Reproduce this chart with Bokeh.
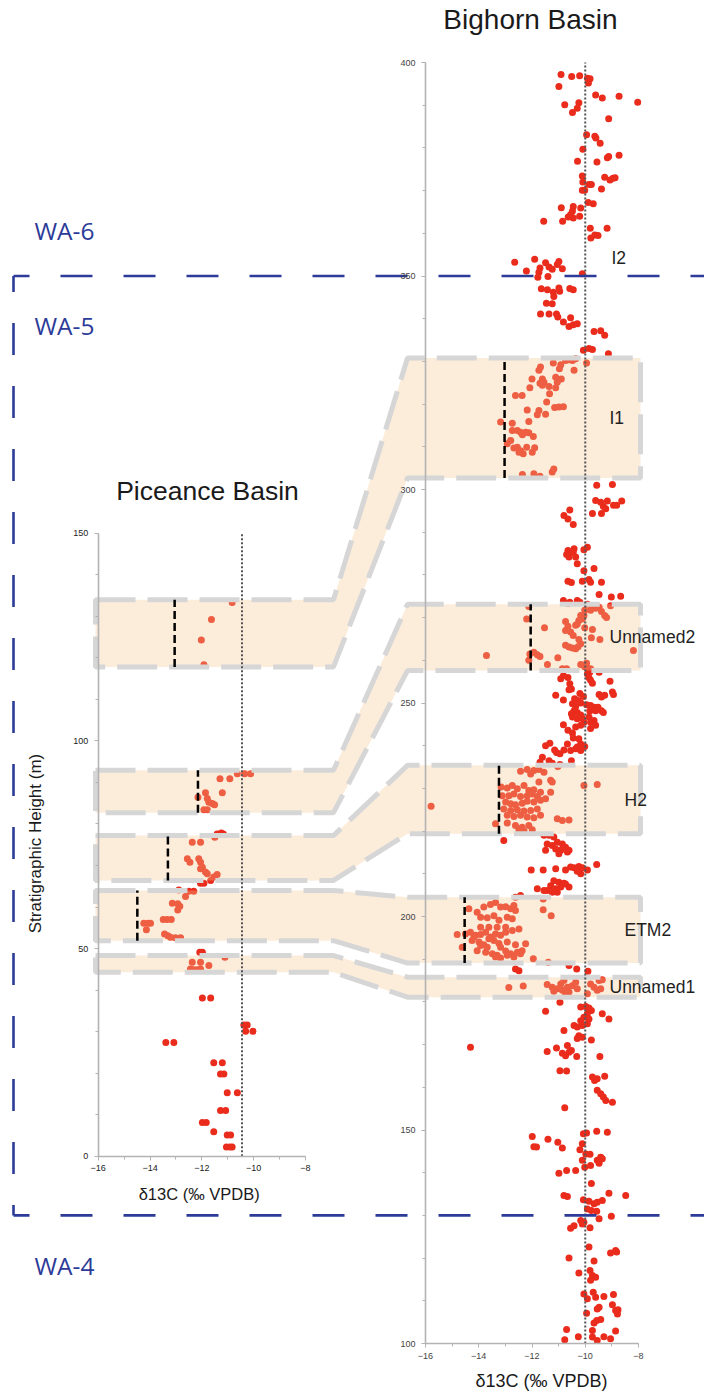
import numpy as np
from bokeh.plotting import figure
from bokeh.models import Range1d, LinearAxis, SingleIntervalTicker
from bokeh.core.properties import value
from bokeh.embed import file_html
from bokeh.resources import INLINE

W, H = 704, 1393

# ---------------- data ----------------
# Bighorn Basin: bulk d13C (per mil VPDB) against stratigraphic height (m)
bighorn_d13c = [
    -10.91, -10.51, -10.21, -9.92, -9.82, -9.88, -10.99,
    -9.61, -9.36, -8.73, -8.03, -10.77, -10.24, -10.30, -10.48, -9.12,
    -9.95, -9.64, -9.60, -9.44, -10.09, -10.29, -9.56,
    -9.17, -9.12, -8.73, -10.11, -10.09, -9.86, -9.77, -10.11, -10.02, -9.39,
    -9.27, -9.07, -8.96, -8.88,
    -9.89, -9.70, -10.90, -10.45, -10.17,
    -10.48, -10.55, -10.64, -10.45, -10.21,
    -11.56, -10.85, -9.81, -9.18, -9.79, -9.64, -9.52,
    -12.65, -11.90, -12.21,
    -11.49, -11.36, -11.24, -10.99, -10.86,
    -11.70, -11.74, -11.78, -11.40, -11.05, -10.11,
    -11.65, -11.42, -11.20, -10.99, -10.96, -10.58, -10.45,
    -11.18, -11.46, -11.24,
    -11.68, -11.36, -11.08, -11.03, -10.82,
    -10.55, -10.61, -10.45, -10.30,
    -9.67, -9.42, -9.27,
    -10.07, -9.86, -9.73, -9.13,
    -10.74, -10.61, -10.48, -10.36, -9.95,
    -11.20, -10.92, -10.97, -11.68, -11.74, -10.42,
    -11.11, -10.90, -11.05, -11.11,
    -12.00, -11.61, -11.55, -11.70, -11.61, -11.36,
    -12.08, -12.62, -12.37, -11.34, -11.45,
    -11.15, -10.99, -10.82, -12.18,
    -11.74, -11.80, -11.49,
    -13.18, -12.74, -12.12,
    -12.74, -12.55, -12.43, -12.24, -12.12, -12.36, -11.95,
    -12.80, -12.93,
    -12.68, -12.55, -12.43, -12.33, -12.20, -11.99, -11.90, -12.49,
    -12.36, -11.93, -11.70, -11.24, -11.18,
    -9.57, -8.98,
    -9.61, -9.42, -9.17, -9.32, -9.23, -8.94, -8.82, -8.63,
    -9.73, -9.39,
    -10.58, -10.80, -10.65, -10.45,
    -10.42, -9.92,
    -10.65, -10.45, -10.61, -10.36, -10.30, -10.05, -10.70,
    -9.67, -10.05,
    -10.65, -10.52, -10.11, -9.86, -9.80, -9.39,
    -9.48, -9.02, -8.67,
    -10.82, -10.65, -10.58, -10.30, -10.20, -9.05,
    -9.92, -9.73, -9.61, -9.48, -9.39, -9.27, -9.20, -9.80, -10.02,
    -10.05, -10.17, -10.11, -10.24, -10.30, -10.36,
    -12.12, -12.20, -11.53, -10.74, -10.65,
    -10.02, -9.73, -9.77, -9.45,
    -10.74, -10.55, -10.45, -10.24, -10.17,
    -10.74, -10.61, -10.48, -10.36, -10.27,
    -13.71, -12.08, -11.93, -11.80, -11.70, -12.12, -11.03, -11.42, -8.19,
    -10.86, -10.70, -10.82, -10.65, -10.92,
    -10.17, -10.02, -9.95, -9.90, -9.80, -9.83, -9.48, -9.92, -9.86, -9.80, -9.73,
    -9.07, -10.58, -10.52, -10.61,
    -11.11, -10.82,
    -10.20, -10.07, -10.40, -10.27, -10.17,
    -9.48, -9.39, -9.27, -8.98, -8.94,
    -10.48, -10.36, -10.42, -10.30, -10.52, -10.17,
    -9.95, -9.80, -9.67, -9.52, -9.39, -9.61, -9.32, -9.83,
    -10.48, -10.30, -10.11, -10.05, -9.86, -9.67, -9.80,
    -10.82, -10.65, -10.36, -10.17, -10.48, -9.80, -9.61,
    -10.45, -10.24, -10.17, -10.30, -10.67,
    -11.33, -11.49, -11.15, -11.08, -10.95, -10.80, -10.55, -10.36, -10.17, -10.02,
    -11.61, -11.70, -11.36, -11.24, -11.03, -10.95, -10.52,
    -12.43, -12.18, -11.93, -11.74, -11.55, -12.05,
    -11.30, -10.05, -9.55,
    -15.79,
    -13.16, -12.93, -12.74, -12.55, -12.30, -12.12, -11.93, -11.68,
    -13.12, -12.87, -12.68, -12.43, -12.18, -11.99, -11.80,
    -12.99, -12.80, -12.62, -12.37, -12.18, -11.93, -11.68, -11.49,
    -13.06, -12.80, -12.55, -12.30, -12.05, -11.80,
    -12.93, -12.68, -12.43, -12.18, -11.93, -11.68,
    -13.37, -12.93, -12.62, -12.37, -12.12, -11.99, -12.30, -12.49,
    -11.30, -11.24, -11.74,
    -11.05, -10.86, -10.61,
    -13.06,
    -11.55, -11.36, -11.18, -11.43, -11.24, -11.05, -10.86, -10.74, -10.92, -11.11, -11.49, -10.67, -10.61, -10.99,
    -12.03, -11.58, -11.11, -10.74, -10.55, -10.42, -10.24, -10.11, -10.30, -10.17, -9.92, -9.57,
    -11.18, -10.99, -10.80, -10.61, -11.30, -11.11, -10.92, -11.43, -11.24, -11.80, -11.55, -11.05, -10.74,
    -11.58, -12.43, -12.62,
    -14.37, -14.06, -13.81, -13.56, -13.37, -13.18, -12.99, -12.80, -12.68, -12.62,
    -13.93, -13.68, -13.43, -13.24, -12.93, -12.74,
    -14.81, -14.50, -14.31, -14.12, -13.93, -13.74, -13.56, -13.37, -13.18, -12.99, -12.74, -12.49,
    -14.62, -14.25, -13.99, -13.81, -13.62, -13.43, -13.24, -12.93, -12.62, -12.24,
    -14.06, -13.74, -13.49, -13.31, -12.99, -12.80, -12.55, -12.37,
    -13.37, -13.18, -12.93, -12.68, -12.43,
    -13.93, -13.68, -14.18, -13.18,
    -11.58, -11.28, -11.95, -11.39,
    -13.93, -13.62, -13.31, -12.99,
    -12.62, -12.49, -12.87, -12.33, -10.61, -10.32, -9.90,
    -11.43, -11.24, -11.05, -10.86, -10.67, -10.49, -10.36, -10.80, -10.92, -10.61,
    -11.18, -10.74, -10.30, -9.80, -9.67, -9.48, -9.36, -9.55, -9.42, -9.92,
    -10.95, -11.49, -10.17, -9.98, -9.86, -9.77, -9.92, -10.05, -10.17, -9.86, -9.36, -9.11,
    -9.92, -10.11, -10.30, -10.42, -10.80, -10.24, -10.30, -10.11, -9.77,
    -11.43, -11.08, -10.86, -10.74, -10.61, -10.67, -10.52, -10.32, -9.45,
    -10.95, -10.70, -9.73, -9.65, -9.55, -9.27, -14.31,
    -9.55, -9.42, -9.32, -9.23, -8.98, -10.77,
    -11.99, -11.40, -11.03, -10.86, -11.93, -11.83,
    -10.07, -9.95, -9.57, -9.17,
    -10.11, -10.20, -9.98, -9.82, -10.11, -10.02, -9.80, -9.55, -9.42, -9.36, -9.48,
    -10.99, -10.70, -10.36, -9.77,
    -10.80, -10.67, -10.07, -9.86, -9.67, -9.55, -9.36, -9.11, -8.48,
    -9.02, -9.92, -9.77, -9.57, -9.48,
    -10.55, -10.42, -10.17, -10.05, -10.11, -9.82,
    -9.86, -10.61, -9.05, -8.86, -8.82, -9.67,
    -10.24, -9.82, -9.73, -9.61, -9.80,
    -10.05, -9.92, -9.70, -9.61, -9.30, -8.94,
    -10.77, -10.70, -10.26, -9.73, -9.73, -9.55, -9.67, -9.57, -9.42, -9.48,
    -9.55, -9.30, -9.05, -8.86, -8.79, -8.77, -8.86, -8.98, -9.95,
]
bighorn_height = [
    397.2, 396.7, 396.9, 396.3, 396.2, 395.2, 394.4,
    392.4, 391.7, 392.1, 390.7, 390.1, 390.6, 389.3, 388.3, 386.8,
    383.1, 382.7, 382.3, 381.1, 379.7, 376.9, 376.7,
    377.7, 378.0, 378.3, 373.4, 372.0, 371.4, 371.4, 370.1, 370.1, 370.4,
    373.1, 372.5, 372.9, 373.0,
    367.2, 366.9, 366.0, 366.3, 365.9,
    365.2, 364.4, 363.8, 363.6, 364.0,
    362.8, 362.8, 361.2, 361.2, 358.9, 359.6, 359.5,
    353.2, 353.9, 351.2,
    353.1, 352.1, 351.6, 353.4, 351.7,
    351.9, 350.9, 349.7, 349.9, 352.7, 350.5,
    347.0, 346.8, 346.2, 347.2, 346.4, 347.1, 346.8,
    345.2, 343.6, 343.5,
    341.1, 341.1, 341.1, 340.4, 339.2,
    340.2, 338.2, 338.6, 338.8,
    337.0, 337.2, 336.1,
    332.6, 333.0, 332.8, 331.8,
    330.2, 330.4, 330.2, 330.6, 329.6,
    329.6, 329.2, 328.3, 328.7, 327.9, 327.9,
    326.3, 325.9, 325.1, 323.8,
    325.9, 325.9, 325.1, 324.9, 324.4, 324.1,
    323.8, 322.0, 322.0, 322.4, 320.5,
    319.2, 319.3, 319.4, 318.6,
    318.5, 317.5, 317.6,
    315.8, 315.5, 315.9,
    313.8, 313.8, 313.4, 313.4, 313.3, 312.8, 312.4,
    311.5, 310.7,
    309.7, 309.9, 309.1, 308.4, 309.9, 308.7, 309.8, 308.7,
    303.5, 303.7, 303.1, 304.1, 304.8,
    301.0, 301.2,
    297.4, 297.0, 297.3, 296.0, 295.5, 296.3, 296.3, 297.3,
    294.4, 294.4,
    295.2, 293.9, 293.1, 291.8,
    286.1, 286.5,
    285.7, 285.3, 284.2, 284.2, 282.6, 285.9, 284.8,
    281.5, 281.0,
    278.5, 278.2, 278.5, 278.9, 278.3, 278.3,
    275.4, 274.8, 275.0,
    274.0, 273.3, 273.6, 274.0, 273.6, 272.8,
    273.1, 272.8, 272.2, 272.4, 271.4, 270.5, 270.0, 271.7, 271.7,
    270.5, 270.5, 269.7, 269.3, 268.5, 268.2,
    272.6, 269.7, 267.6, 269.1, 268.0,
    267.6, 267.2, 265.3, 264.9,
    267.0, 266.6, 265.8, 264.9, 263.9,
    263.5, 263.1, 262.9, 262.7, 263.2,
    261.1, 261.5, 261.9, 261.3, 260.9, 260.0, 260.6, 259.0, 262.3,
    258.0, 258.0, 256.4, 256.0, 255.7,
    259.0, 258.5, 259.3, 258.0, 258.0, 257.2, 257.2, 256.8, 255.9, 255.3, 254.6,
    255.1, 254.5, 253.3, 253.1,
    251.8, 250.7,
    252.2, 251.5, 251.0, 250.6, 250.0,
    252.0, 251.4, 251.8, 252.6, 252.0,
    249.8, 249.2, 248.2, 247.8, 247.5, 247.2,
    249.6, 249.4, 249.0, 249.0, 248.2, 248.2, 247.8, 248.1,
    246.7, 246.3, 246.4, 245.5, 246.7, 245.9, 245.5,
    244.9, 243.6, 244.4, 244.8, 243.0, 244.0, 244.8,
    241.8, 241.6, 240.4, 239.7, 240.4,
    240.6, 240.0, 239.0, 238.4, 238.1, 239.0, 238.9, 239.3, 238.9, 239.8,
    237.3, 236.1, 236.5, 235.9, 235.1, 235.6, 236.5,
    234.0, 234.4, 234.2, 234.4, 233.8, 233.4,
    231.9, 230.7, 230.9,
    225.8,
    230.3, 230.1, 230.7, 229.9, 230.7, 229.5, 229.7, 229.1,
    228.3, 228.3, 228.7, 228.1, 228.3, 228.7, 228.1,
    226.8, 226.4, 226.2, 226.5, 227.0, 226.8, 227.2, 227.6,
    225.2, 224.8, 225.0, 224.7, 224.8, 225.2,
    223.7, 223.4, 223.7, 223.3, 223.1, 223.7,
    221.7, 221.9, 221.3, 220.9, 221.3, 220.3, 220.0, 220.3,
    229.1, 231.5, 231.5,
    222.9, 222.5, 222.6,
    217.8,
    219.0, 219.0, 218.6, 217.0, 216.6, 217.4, 217.0, 216.2, 215.5, 215.8, 215.5, 215.1, 215.5, 214.7,
    210.9, 210.9, 211.2, 210.9, 211.6, 211.4, 211.7, 211.4, 210.6, 210.0, 210.9, 212.2,
    208.4, 208.0, 207.8, 206.9, 207.2, 206.5, 206.9, 206.1, 205.7, 206.5, 206.1, 205.7, 207.6,
    204.1, 204.9, 204.5,
    201.8, 201.0, 202.2, 202.8, 203.3, 202.2, 202.3, 201.8, 202.6, 201.4,
    199.8, 199.7, 200.2, 199.1, 199.8, 199.5,
    195.8, 195.9, 196.3, 195.6, 195.8, 196.3, 195.2, 195.9, 195.6, 196.3, 196.7, 197.1,
    192.8, 194.4, 194.0, 193.4, 194.8, 194.4, 193.7, 194.0, 193.4, 193.6,
    192.0, 191.6, 191.3, 190.9, 191.9, 191.3, 191.6, 192.0,
    190.5, 190.3, 190.9, 190.5, 191.3,
    193.2, 192.8, 195.2, 192.8,
    201.6, 200.2, 190.1, 189.3,
    197.5, 197.5, 197.5, 197.5,
    187.7, 187.3, 183.4, 183.7, 188.5, 187.7, 187.2,
    184.1, 183.45, 183.1, 182.7, 183.45, 183.8, 184.6, 185.0, 184.2, 182.3,
    182.5, 181.9, 183.1, 184.2, 183.45, 185.0, 185.2, 182.7, 183.1, 181.9,
    179.9, 177.8, 178.8, 178.9, 178.6, 178.0, 177.2, 176.4, 175.6, 176.0, 177.2, 176.0,
    174.9, 174.5, 174.1, 174.5, 173.3, 172.1, 171.4, 171.7, 171.1,
    168.4, 169.2, 168.0, 167.4, 168.2, 169.8, 168.6, 167.2, 167.2,
    163.9, 163.8, 162.4, 161.6, 162.0, 162.6, 169.4,
    159.3, 158.5, 157.7, 156.9, 156.5, 155.2,
    148.5, 147.85, 147.15, 145.8, 146.1, 146.0,
    149.1, 149.3, 149.7, 149.5,
    146.8, 145.4, 144.4, 144.3, 142.9, 141.3, 141.7, 142.9, 143.6, 143.25, 142.2,
    139.9, 140.5, 140.5, 137.5,
    134.66, 134.4, 133.65, 133.3, 132.7, 133.1, 133.5, 135.2, 134.66,
    129.8, 131.5, 131.15, 131.0, 129.2,
    127.0, 127.6, 128.8, 128.4, 128.0, 127.1,
    122.6, 120.0, 121.2, 121.8, 121.4, 119.3,
    116.5, 117.1, 115.9, 115.5, 114.8,
    111.6, 110.5, 112.0, 110.85, 111.0, 111.5,
    100.9, 103.3, 101.6, 103.05, 101.5, 100.7, 104.8, 105.4, 105.6, 108.5,
    108.1, 101.6, 101.1, 102.9, 106.9, 107.9, 107.7, 109.1, 107.1,
]

# Piceance Basin: bulk d13C (per mil VPDB) against stratigraphic height (m)
piceance_d13c = [
    -10.83, -11.63, -12.02, -11.92,
    -10.63, -10.35, -10.12, -11.30, -10.92, -11.21, -11.86, -12.15, -11.79, -11.73, -11.60, -11.51, -11.92, -11.79,
    -11.41, -11.25, -11.17, -11.50, -12.37, -12.05, -12.56, -12.46, -12.12, -12.05, -12.05, -11.98, -11.86, -11.79,
    -11.41, -11.54, -11.66, -12.05, -11.92,
    -12.89, -12.50, -12.31, -12.63, -13.14, -12.93, -12.85, -12.93, -13.49, -13.34, -13.18, -14.24, -14.08, -13.98,
    -14.14, -13.44, -13.31, -13.21, -13.02, -12.82,
    -12.08, -11.98, -11.11, -12.37, -12.05, -11.73, -12.44, -12.31, -12.18, -12.05,
    -11.98, -11.66,
    -10.38, -10.25, -10.31, -10.03,
    -13.39, -13.08,
    -11.54, -11.21, -11.28, -11.15,
    -11.02, -10.63, -11.28, -11.08, -11.98, -11.83, -11.54, -11.02, -10.89, -11.05, -10.92, -10.83,
]
piceance_height = [
    133.3, 129.2, 124.3, 118.3,
    92.1, 92.1, 92.1, 90.9, 90.9, 87.5, 87.5, 86.4, 86.1, 85.2, 84.9, 84.6, 83.4, 83.4,
    77.6, 77.8, 77.6, 76.8, 75.6, 75.6, 71.6, 70.8, 71.6, 70.8, 69.2, 69.6, 68.4, 68.0,
    67.8, 67.2, 66.4, 65.7, 65.7,
    64.1, 63.8, 63.8, 62.5, 60.9, 60.8, 60.2, 59.3, 57.0, 57.0, 57.0, 56.1, 56.1, 56.1,
    54.5, 53.5, 53.1, 52.7, 52.6, 52.6,
    49.1, 49.1, 47.9, 46.7, 46.7, 45.9, 45.1, 44.9, 44.9, 45.1,
    38.1, 38.1,
    31.6, 31.6, 30.1, 30.1,
    27.4, 27.4,
    22.5, 22.5, 19.8, 19.8,
    15.3, 15.3, 11.0, 11.0, 8.1, 8.1, 5.9, 5.1, 5.1, 2.2, 2.2, 2.2,
]

# correlated carbon-isotope excursions (m) and their minimum d13C
band_names = ["I1", "Unnamed2", "H2", "ETM2", "Unnamed1"]
piceance_band_bottom = [117.8, 82.7, 66.4, 51.9, 44.3]
piceance_band_top = [134.0, 92.9, 77.2, 64.0, 48.3]
bighorn_band_bottom = [302.7, 257.6, 219.4, 189.1, 181.1]
bighorn_band_top = [330.8, 273.1, 235.4, 204.5, 185.8]
piceance_band_min = [-13.05, -12.15, -13.31, -14.49]
bighorn_band_min = [-13.03, -12.05, -13.24, -14.53]
i2_height = 354.1

# Wasatchian biozone boundaries in the Bighorn section (m)
zone_names = ["WA-6", "WA-5", "WA-4"]
zone_boundaries = [350, 130]

# background d13C reference values
bighorn_ref = -10.0
piceance_ref = -10.45

# ---------------- page layout (pixels) ----------------
def fit(v0, v1, p0, p1, total):
    """Values at pixel 0 and at pixel `total` so that v0 sits at p0 and v1 at p1."""
    k = (v1 - v0) / (p1 - p0)
    return v0 - p0 * k, v0 + (total - p0) * k

bx_left, bx_right = fit(-16, -8, 425, 638, W)
by_top, by_bottom = fit(400, 100, 62, 1343, H)
px_left, px_right = fit(-16, -8, 97.7, 305, W)
py_top, py_bottom = fit(150, 0, 532.7, 1155.7, H)


def mx(px):
    return bx_left + px * (bx_right - bx_left) / W


def my(py):
    return by_top + py * (by_bottom - by_top) / H


def pic_to_main_y(v):
    return my((v - py_top) / (py_bottom - py_top) * H)


RED = "#ea2c1d"
GRAY_AXIS = "#b3b3b3"
BLUE = "#2c3b98"
SANS = value("Liberation Sans")

p = figure(width=W, height=H,
           x_range=Range1d(bx_left, bx_right), y_range=Range1d(by_bottom, by_top),
           x_axis_type=None, y_axis_type=None,
           output_backend="svg", toolbar_location=None,
           min_border=0, outline_line_color=None,
           background_fill_color="white", border_fill_color="white")
p.extra_x_ranges = {"pic_x": Range1d(px_left, px_right)}
p.extra_y_ranges = {"pic_y": Range1d(py_bottom, py_top)}
pic = dict(x_range_name="pic_x", y_range_name="pic_y")

# ---------------- axes ----------------
def add_axes(xloc, yloc, ybounds, label_color, names):
    ya = LinearAxis(fixed_location=xloc, bounds=ybounds,
                    ticker=SingleIntervalTicker(interval=50, num_minor_ticks=5), **names)
    xa = LinearAxis(fixed_location=yloc, bounds=(-16, -8),
                    ticker=SingleIntervalTicker(interval=2, num_minor_ticks=2), **names)
    for ax in (ya, xa):
        ax.axis_line_color = GRAY_AXIS
        ax.axis_line_width = 1.6
        ax.major_tick_line_color = GRAY_AXIS
        ax.minor_tick_line_color = GRAY_AXIS
        ax.major_tick_in = 0
        ax.major_tick_out = 4
        ax.minor_tick_in = 0
        ax.minor_tick_out = 3
        ax.major_label_text_font = "Liberation Sans"
        ax.major_label_text_font_size = "9px"
        ax.major_label_text_color = label_color
    ya.major_label_standoff = 6
    xa.major_label_standoff = 5
    p.add_layout(ya, "left")
    p.add_layout(xa, "below")

add_axes(-16, 100, (100, 400), "#444444", {})
add_axes(-16, 0, (0, 150), "#222222", pic)

# ---------------- data points ----------------
p.scatter(bighorn_d13c, bighorn_height, size=7, fill_color=RED, line_color=None)
p.scatter(piceance_d13c, piceance_height, size=7, fill_color=RED, line_color=None, **pic)

# ---------------- correlation bands ----------------
x_left, x_bend0, x_bend1, x_right = mx(95), mx(333), mx(407), mx(640)
band_xs, band_ys = [], []
for pb, pt, bb, bt in zip(piceance_band_bottom, piceance_band_top,
                          bighorn_band_bottom, bighorn_band_top):
    pb_m, pt_m = pic_to_main_y(pb), pic_to_main_y(pt)
    band_xs.append([x_left, x_bend0, x_bend1, x_right, x_right, x_bend1, x_bend0, x_left])
    band_ys.append([pt_m, pt_m, bt, bt, bb, bb, pb_m, pb_m])
p.patches(band_xs, band_ys, fill_color="#f7c58e", fill_alpha=0.33,
          line_color="#d6d6d6", line_width=5, line_dash="40 12")

# excursion minima
n_pic = len(piceance_band_min)
p.segment(x0=piceance_band_min, y0=piceance_band_bottom[:n_pic],
          x1=piceance_band_min, y1=piceance_band_top[:n_pic],
          line_color="black", line_width=2.5, line_dash="8 4", **pic)
n_big = len(bighorn_band_min)
p.segment(x0=bighorn_band_min, y0=bighorn_band_bottom[:n_big],
          x1=bighorn_band_min, y1=bighorn_band_top[:n_big],
          line_color="black", line_width=2.5, line_dash="8 4")

# background reference lines
p.segment(x0=[bighorn_ref], y0=[100], x1=[bighorn_ref], y1=[400],
          line_color="#555555", line_width=2, line_dash="2 2")
p.segment(x0=[piceance_ref], y0=[0], x1=[piceance_ref], y1=[150],
          line_color="#555555", line_width=2, line_dash="2 2", **pic)

# ---------------- biozones ----------------
zx0 = mx(13)
p.segment(x0=[zx0] * len(zone_boundaries), y0=zone_boundaries,
          x1=[mx(W + 40)] * len(zone_boundaries), y1=zone_boundaries,
          line_color=BLUE, line_width=2.6, line_dash="32 31", line_dash_offset=16)
p.segment(x0=[zx0], y0=[zone_boundaries[0]], x1=[zx0], y1=[zone_boundaries[1]],
          line_color=BLUE, line_width=2.6, line_dash="32 31", line_dash_offset=16)
zone_label_y = [my(230), my(325), my(1265)]
p.text(x=[mx(34)] * 3, y=zone_label_y, text=zone_names,
       text_font=value("Open Sans"), text_font_size="24.5px", text_color=BLUE,
       text_align="left", text_baseline="middle")

# ---------------- labels ----------------
label_x = [mx(609), mx(609), mx(624), mx(624), mx(609)]
label_y = [(b + t) / 2 for b, t in zip(bighorn_band_bottom, bighorn_band_top)]
p.text(x=label_x + [mx(611)], y=label_y + [i2_height], text=band_names + ["I2"],
       text_font=SANS, text_font_size="17.5px", text_color="#1f1f1f",
       text_align="left", text_baseline="middle")

p.text(x=[mx(530)], y=[my(19)], text=["Bighorn Basin"],
       text_font=SANS, text_font_size="28px", text_color="#1a1a1a",
       text_align="center", text_baseline="middle")
p.text(x=[mx(207)], y=[my(490)], text=["Piceance Basin"],
       text_font=SANS, text_font_size="26.5px", text_color="#1a1a1a",
       text_align="center", text_baseline="middle")

p.text(x=[mx(541)], y=[my(1380)], text=["δ13C (‰ VPDB)"],
       text_font=SANS, text_font_size="18px", text_color="#1a1a1a",
       text_align="center", text_baseline="middle")
p.text(x=[mx(201)], y=[my(1193)], text=["δ13C  (‰ VPDB)"],
       text_font=SANS, text_font_size="16.5px", text_color="#1a1a1a",
       text_align="center", text_baseline="middle")
p.text(x=[mx(35)], y=[my(843)], text=["Stratigraphic Height (m)"], angle=np.pi / 2,
       text_font=SANS, text_font_size="17px", text_color="#1a1a1a",
       text_align="center", text_baseline="middle")

open("out.html", "w").write(file_html(p, INLINE))
